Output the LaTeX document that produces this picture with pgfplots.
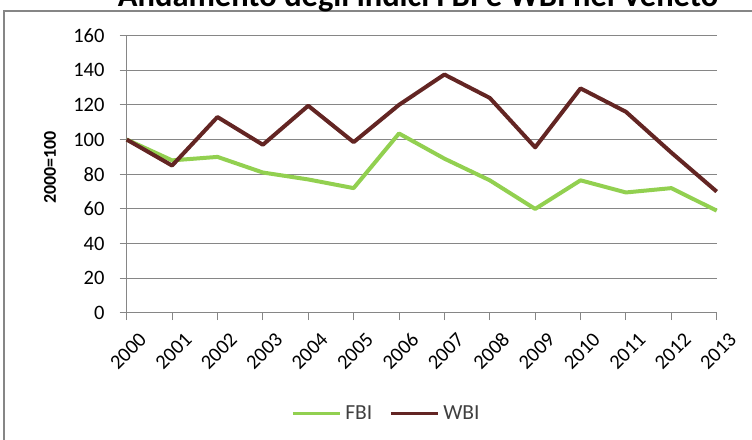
\documentclass[border=0pt]{standalone}
\usepackage{pgfplots}
\pgfplotsset{compat=1.18}
\usepackage{fontspec}
\setmainfont{Carlito}
\definecolor{fbi}{HTML}{92D050}
\definecolor{wbi}{HTML}{632523}
\definecolor{gridg}{HTML}{868686}
\newcommand\tickfont{\fontsize{20.5}{24}\selectfont}
\newcommand\ylabfont{\fontsize{18}{22}\selectfont\bfseries}
\newcommand\legfont{\fontsize{21.5}{25}\selectfont}
\newcommand\titlefont{\fontsize{32.5}{36}\selectfont\bfseries}
\begin{document}
\begin{tikzpicture}[x=1pt,y=1pt]
\useasboundingbox (0,0) rectangle (752,439);
\draw[gridg, line width=2pt] (4,-10) -- (4,428) -- (800,428);
\node[anchor=base, inner sep=0pt, font=\titlefont] at (418,432) {Andamento degli indici FBI e WBI nel Veneto};
\begin{axis}[
  at={(126.7pt,126pt)}, anchor=south west,
  scale only axis, width=590pt, height=277.5pt,
  xmin=2000, xmax=2013, ymin=0, ymax=160,
  xtick={2000,2001,...,2013}, ytick={0,20,...,160},
  axis lines*=left,
  axis line style={gridg, line width=1pt},
  ymajorgrids, grid style={gridg, line width=1pt},
  tick align=outside, major tick length=7pt,
  tick style={gridg, line width=1pt},
  clip=false,
  /pgf/number format/assume math mode=true,
  /pgf/number format/1000 sep={},
  xticklabel={\tickfont\pgfmathprintnumber{\tick}},
  yticklabel={\tickfont\pgfmathprintnumber{\tick}},
  xticklabel style={rotate=45, anchor=east, inner sep=0pt, yshift=-23pt},
  yticklabel style={anchor=east, inner sep=0pt, xshift=-15pt},
  ylabel={\ylabfont 2000=100},
  ylabel style={at={(axis description cs:-0.13,0.525)}, anchor=center},
  legend columns=-1,
  legend style={at={(0.4386,-0.3604)}, anchor=center, draw=none, font=\legfont, text=black!75,
    nodes={inner sep=0pt},
    /tikz/every odd column/.append style={column sep=4pt},
    /tikz/every even column/.append style={column sep=17pt}},
  legend image code/.code={\draw[#1, line width=3pt] (0pt,0pt) -- (47pt,0pt);},
]
\addplot[fbi, line width=4pt, line join=round] coordinates {
(2000,100) (2001,88) (2002,90) (2003,81) (2004,77) (2005,72) (2006,103.5)
(2007,89) (2008,76.5) (2009,60) (2010,76.5) (2011,69.5) (2012,72) (2013,59)};
\addlegendentry{FBI}
\addplot[wbi, line width=4pt, line join=round] coordinates {
(2000,100) (2001,85) (2002,113) (2003,97) (2004,119.5) (2005,98.5) (2006,120)
(2007,137.5) (2008,124) (2009,95.5) (2010,129.5) (2011,116) (2012,92.5) (2013,70)};
\addlegendentry{WBI}
\end{axis}
\end{tikzpicture}
\end{document}
